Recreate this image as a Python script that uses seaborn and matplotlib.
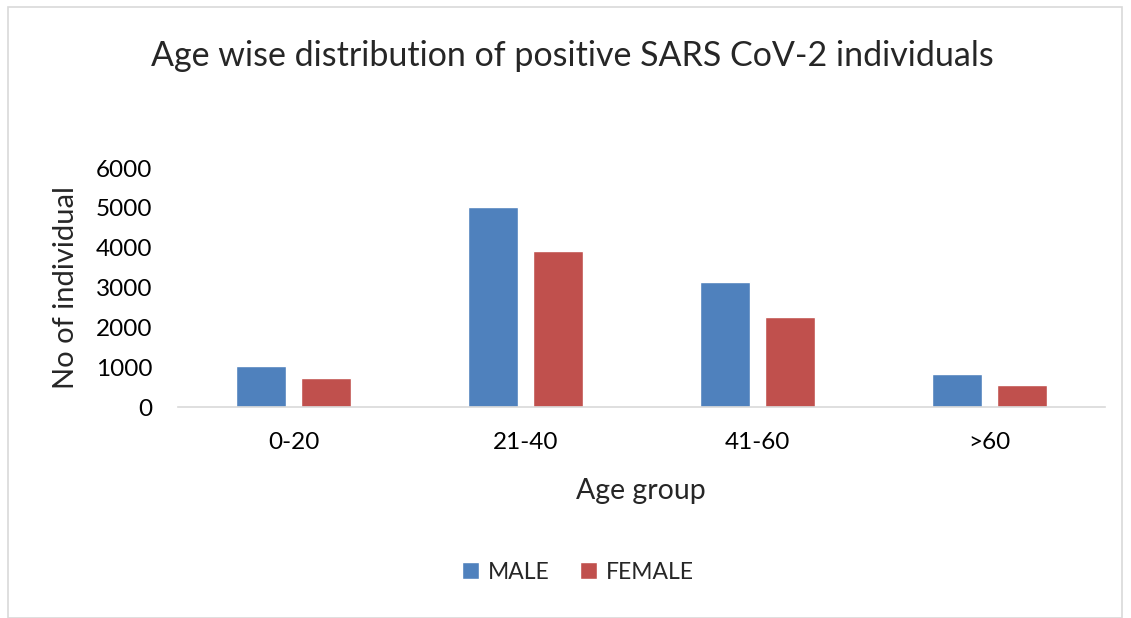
import pandas as pd
import matplotlib.pyplot as plt
import seaborn as sns
from matplotlib.patches import Rectangle

# Data
age_groups = ["0-20", "21-40", "41-60", ">60"]
male = [1040, 5035, 3135, 825]
female = [725, 3910, 2275, 550]

df = pd.DataFrame({
    "Age group": age_groups * 2,
    "count": male + female,
    "sex": ["MALE"] * 4 + ["FEMALE"] * 4,
})

sns.set_style("white")
plt.rcParams['font.family'] = ['Lato', 'DejaVu Sans']

fig = plt.figure(figsize=(11.31, 6.18), dpi=100)
ax = fig.add_axes([0.157, 0.341, 0.82, 0.387])

sns.barplot(data=df, x="Age group", y="count", hue="sex",
            palette={"MALE": "#4F81BD", "FEMALE": "#C0504D"},
            saturation=1, width=0.56, gap=0.23, ax=ax, legend=True)

ax.set_ylim(0, 6000)
ax.set_yticks(range(0, 6001, 1000))
ax.set_xlim(-0.5, 3.5)
ax.tick_params(axis='both', length=0, labelsize=17.5, colors="#000000")
ax.tick_params(axis='y', pad=18)
ax.tick_params(axis='x', pad=18)
for s in ["top", "right", "left"]:
    ax.spines[s].set_visible(False)
ax.spines["bottom"].set_color("#D9D9D9")
ax.spines["bottom"].set_linewidth(1.2)

ax.set_xlabel("Age group", fontsize=20.5, labelpad=18)
ax.set_ylabel("No of individual", fontsize=21, labelpad=12)

fig.text(0.506, 0.91, "Age wise distribution of positive SARS CoV-2 individuals",
         ha="center", va="center", fontsize=24.5)

ax.legend(loc="center", bbox_to_anchor=(0.511, 0.074), bbox_transform=fig.transFigure,
          ncol=2, frameon=False, fontsize=16.5, handlelength=0.75, handleheight=0.75,
          handletextpad=0.4, columnspacing=1.3)

# chart frame
fig.patches.append(Rectangle((0.007, 0.0), 0.985, 0.988, transform=fig.transFigure,
                             fill=False, edgecolor="#D9D9D9", linewidth=1.2))

fig.savefig("out.png", dpi=100)
